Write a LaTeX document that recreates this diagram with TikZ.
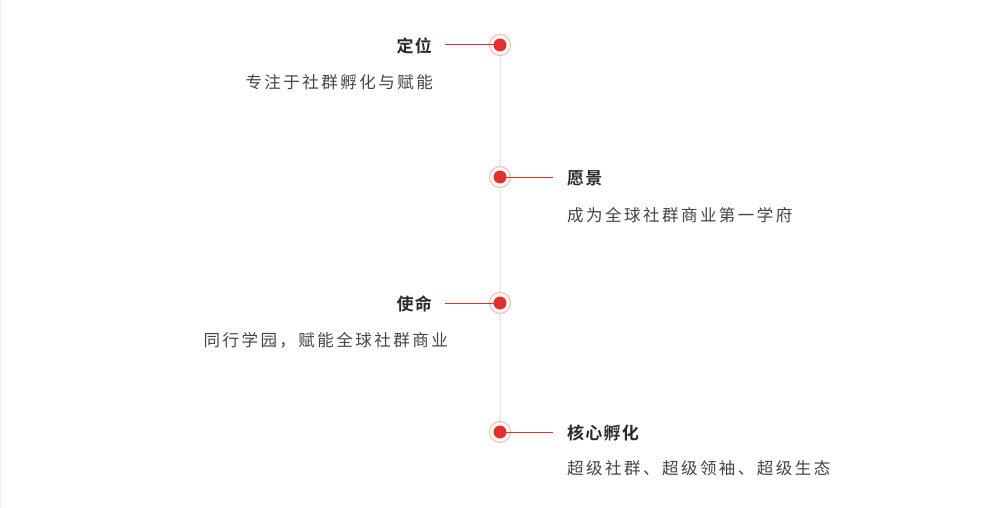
\documentclass[tikz,border=0pt]{standalone}
\usepackage{fontspec}
\setmainfont{Noto Sans CJK SC}
\newfontfamily\subfont[LetterSpace=15]{Noto Sans CJK SC}
\newfontfamily\titlefont[LetterSpace=7]{Noto Sans CJK SC Bold}
\definecolor{dotred}{HTML}{E3302C}
\definecolor{ringpink}{HTML}{F8B4AE}
\definecolor{axisgrey}{HTML}{E6E6E6}
\definecolor{titlecol}{HTML}{2A2A2A}
\definecolor{subcol}{HTML}{444444}
\definecolor{edgegrey}{HTML}{F2F2F2}
\tikzset{
  ring/.style={circle, draw=ringpink, line width=1pt, fill=white, minimum size=21pt, inner sep=0pt},
  reddot/.style={circle, fill=dotred, minimum size=13pt, inner sep=0pt},
  link/.style={draw=dotred, line width=1pt},
  axis/.style={draw=axisgrey, line width=1pt},
  ttl/.style={inner sep=0pt, text=titlecol, font=\titlefont\fontsize{17pt}{19pt}\selectfont},
  sub/.style={inner sep=0pt, text=subcol, font=\subfont\fontsize{16.5pt}{18pt}\selectfont},
}
\begin{document}
\begin{tikzpicture}[x=1pt,y=-1pt]
\useasboundingbox (0,0) rectangle (1001,508);
\fill[white] (0,0) rectangle (1001,508);
\fill[edgegrey] (0,0) rectangle (2,508);
% axis
\coordinate (top) at (500,45);
\coordinate (bot) at (500,432);
\draw[axis] (top) -- (bot);
% connector ends
\coordinate (c1) at (445,45);
\coordinate (c2) at (553,177);
\coordinate (c3) at (445,303);
\coordinate (c4) at (553,432);
% rings
\node[ring] (r1) at (500,45) {};
\node[ring] (r2) at (500,177) {};
\node[ring] (r3) at (500,303) {};
\node[ring] (r4) at (500,432) {};
\draw[link] (r1.center) -- (c1);
\draw[link] (r2.center) -- (c2);
\draw[link] (r3.center) -- (c3);
\draw[link] (r4.center) -- (c4);
\node[reddot] (d1) at (500,45) {};
\node[reddot] (d2) at (500,177) {};
\node[reddot] (d3) at (500,303) {};
\node[reddot] (d4) at (500,432) {};
% texts
\node[ttl, anchor=east] (t1) at (432,46) {定位};
\node[sub, anchor=east] (s1) at (433,82) {专注于社群孵化与赋能};
\node[ttl, anchor=west] (t2) at (567,178) {愿景};
\node[sub, anchor=west] (s2) at (567,215) {成为全球社群商业第一学府};
\node[ttl, anchor=east] (t3) at (432,304) {使命};
\node[sub, anchor=east] (s3) at (448,340) {同行学园，赋能全球社群商业};
\node[ttl, anchor=west] (t4) at (567,433) {核心孵化};
\node[sub, anchor=west] (s4) at (567,468) {超级社群、超级领袖、超级生态};
\end{tikzpicture}
\end{document}
